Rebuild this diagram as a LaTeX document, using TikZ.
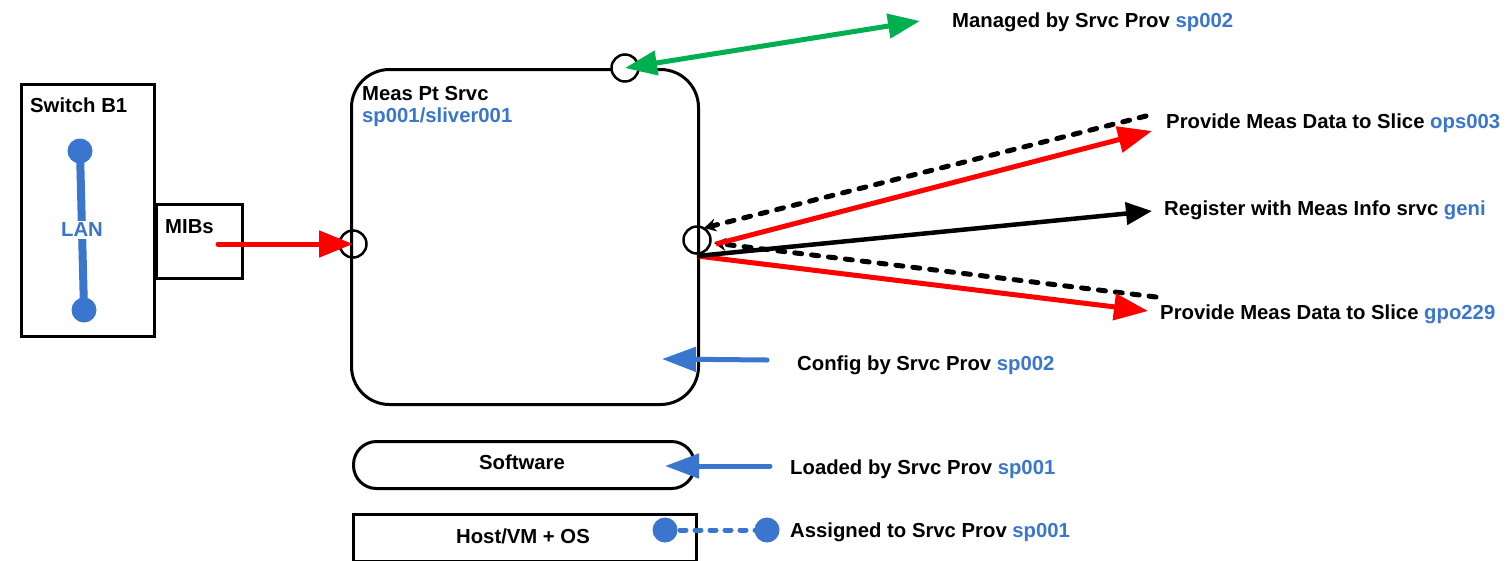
\documentclass[tikz,border=0pt]{standalone}
\usepackage{fontspec}
\setmainfont{Liberation Sans}
\usetikzlibrary{arrows.meta}
\definecolor{myblue}{RGB}{58,118,206}
\definecolor{myred}{RGB}{255,0,0}
\definecolor{mygreen}{RGB}{0,176,80}
\begin{document}
\begin{tikzpicture}[x=1pt,y=-1pt,
  font=\fontsize{20.3}{24}\selectfont\bfseries,
  box/.style={draw=black, line width=3pt, inner sep=0pt},
  port/.style={draw=black, line width=2.5pt, circle, minimum size=27pt, inner sep=0pt},
  lbl/.style={anchor=west, inner sep=0pt, align=left, yshift=-2pt},
  bigred/.style={draw=myred, line width=5pt, -{Triangle[length=34pt,width=26pt]}},
  bigblack/.style={draw=black, line width=4.5pt, -{Triangle[length=26pt,width=22pt]}},
  dashblack/.style={draw=black, line width=5pt, line cap=round, dash pattern=on 7pt off 10pt, -{Stealth[length=12pt,width=13pt]}},
  bluearr/.style={draw=myblue, line width=5pt, line cap=round, -{Triangle[length=34pt,width=24pt]}},
  dot/.style={circle, fill=myblue, minimum size=25pt, inner sep=0pt},
]
\useasboundingbox (0,0) rectangle (1506,560);

% Switch
\node[box, minimum width=133pt, minimum height=252pt, anchor=north west] (sw) at (20,83) {};
\node[lbl] (swt) at (30,103) {Switch B1};
\node[dot] (d1) at (80,151) {};
\node[dot] (d2) at (84,310) {};
\draw[myblue, line width=8pt] (d1.center) -- (d2.center);
\node[fill=white, text=myblue, inner sep=2pt] (lan) at (82,230) {LAN};

% MIBs
\node[box, minimum width=86pt, minimum height=74pt, anchor=north west] (mib) at (155,203) {};
\node[lbl] (mibt) at (165,225) {MIBs};

% Main service box
\node[box, rounded corners=38pt, minimum width=347pt, minimum height=335pt, anchor=north west] (mp) at (350,68) {};
\node[lbl] (mpt) at (362,92) {Meas Pt Srvc};
\node[lbl, text=myblue] (mps) at (362,115) {sp001/sliver001};

\node[port] (lc) at (353,244) {};
\node[port, fill=white] (tc) at (625,68) {};
\node[port] (rc) at (697,240) {};

% MIBs -> service
\coordinate (mibsrc) at (218,244);
\draw[bigred, line cap=round] (mibsrc) -- (lc.center);

% Managed by
\coordinate (gend) at (920,21);
\draw[draw=mygreen, line width=5pt, {Triangle[length=32pt,width=24pt]}-{Triangle[length=32pt,width=24pt]}] (tc.center) -- (gend);
\node[lbl] (man) at (952,20) {Managed by Srvc Prov \textcolor{myblue}{sp002}};

% Right side arrows
\coordinate (ops) at (1152,131);
\coordinate (opsd) at (1146,116);
\coordinate (geni) at (1152,211);
\coordinate (gpo) at (1148,311);
\coordinate (gpod) at (1156,297);
\coordinate (r1) at (716,244);
\coordinate (r2) at (697,256);
\coordinate (r3) at (704,228);
\coordinate (r4) at (714,243);

\draw[dashblack] (opsd) -- (r3);
\draw[dashblack] (gpod) -- (r4);
\draw[bigred] (r1) -- (ops);
\draw[bigred] (r2) -- (gpo);
\draw[bigblack] (r2) -- (geni);

\node[lbl] (t1) at (1166,121) {Provide Meas Data to Slice \textcolor{myblue}{ops003}};
\node[lbl] (t2) at (1164,208) {Register with Meas Info srvc \textcolor{myblue}{geni}};
\node[lbl] (t3) at (1160,312) {Provide Meas Data to Slice \textcolor{myblue}{gpo229}};

% Config
\coordinate (cfgs) at (767,360);
\coordinate (cfge) at (662,359);
\draw[bluearr] (cfgs) -- (cfge);
\node[lbl] (cfg) at (797,363) {Config by Srvc Prov \textcolor{myblue}{sp002}};

% Software
\node[box, rounded corners=23pt, minimum width=341pt, minimum height=47pt, anchor=north west] (sw2) at (352,440) {};
\node (swtxt) at (522,462) {Software};
\coordinate (lds) at (770,466);
\coordinate (lde) at (665,466);
\draw[bluearr] (lds) -- (lde);
\node[lbl] (ld) at (790,467) {Loaded by Srvc Prov \textcolor{myblue}{sp001}};

% Host
\node[box, minimum width=343pt, minimum height=47pt, anchor=north west] (host) at (352,513) {};
\node (hosttxt) at (523,536) {Host/VM + OS};
\node[dot] (hd1) at (665,530) {};
\node[dot] (hd2) at (767,530) {};
\draw[myblue, line width=5pt, line cap=round, dash pattern=on 6pt off 9pt] (hd1.center) -- (hd2.center);
\node[lbl] (asg) at (790,530) {Assigned to Srvc Prov \textcolor{myblue}{sp001}};
\end{tikzpicture}
\end{document}
